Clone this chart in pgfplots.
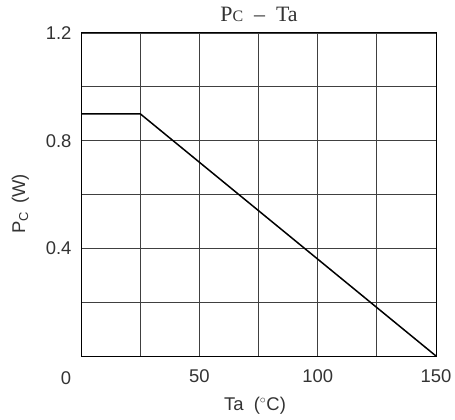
\documentclass[border=0pt]{standalone}
\usepackage{fontspec}
\setmainfont{Liberation Sans}
\newfontfamily\seriff{Liberation Serif}
\usepackage{pgfplots}
\pgfplotsset{compat=1.18}
\definecolor{txt}{gray}{0.2}
\begin{document}
\begin{tikzpicture}[x=1bp,y=1bp]
\useasboundingbox (0,0) rectangle (455,419);
\begin{axis}[
  at={(81bp,63bp)}, anchor=south west,
  scale only axis, width=355bp, height=323bp,
  xmin=0, xmax=150, ymin=0, ymax=1.2,
  xtick={0,25,...,150}, ytick={0,0.2,...,1.2},
  xticklabels={}, yticklabels={},
  extra x ticks={50,100,150}, extra x tick labels={50,100,150},
  extra y ticks={0.4,0.8,1.2}, extra y tick labels={0.4,0.8,1.2},
  extra x tick style={grid=none, major tick length=0pt, xticklabel style={yshift=-10bp}},
  extra y tick style={grid=none, major tick length=0pt, yticklabel style={xshift=-6bp}},
  major tick length=0pt,
  grid=major, major grid style={black!75, line width=0.8bp},
  axis line style={black, line width=1bp},
  tick label style={font=\fontsize{18.5}{18.5}\selectfont, text=txt},
  /pgf/number format/assume math mode=true,
  clip=false,
]
\addplot[black, line width=1.5bp] coordinates {(0,0.9) (25,0.9) (150,0)};
\end{axis}
\node[font=\fontsize{18.5}{18.5}\selectfont, text=txt] at (66,41) {0};
\node[font=\fontsize{22}{22}\selectfont\seriff, anchor=base, text=txt] at (259,397) {P{\fontsize{16}{16}\selectfont C}\ \ –\ \ Ta};
\node[font=\fontsize{18.5}{18.5}\selectfont, anchor=base, text=txt] at (255,9) {Ta\ \ ($^\circ$C)};
\node[font=\fontsize{18.5}{18.5}\selectfont, rotate=90, anchor=base, text=txt] at (25,215) {P\textsubscript{C}\ \,(W)};
\end{tikzpicture}
\end{document}
